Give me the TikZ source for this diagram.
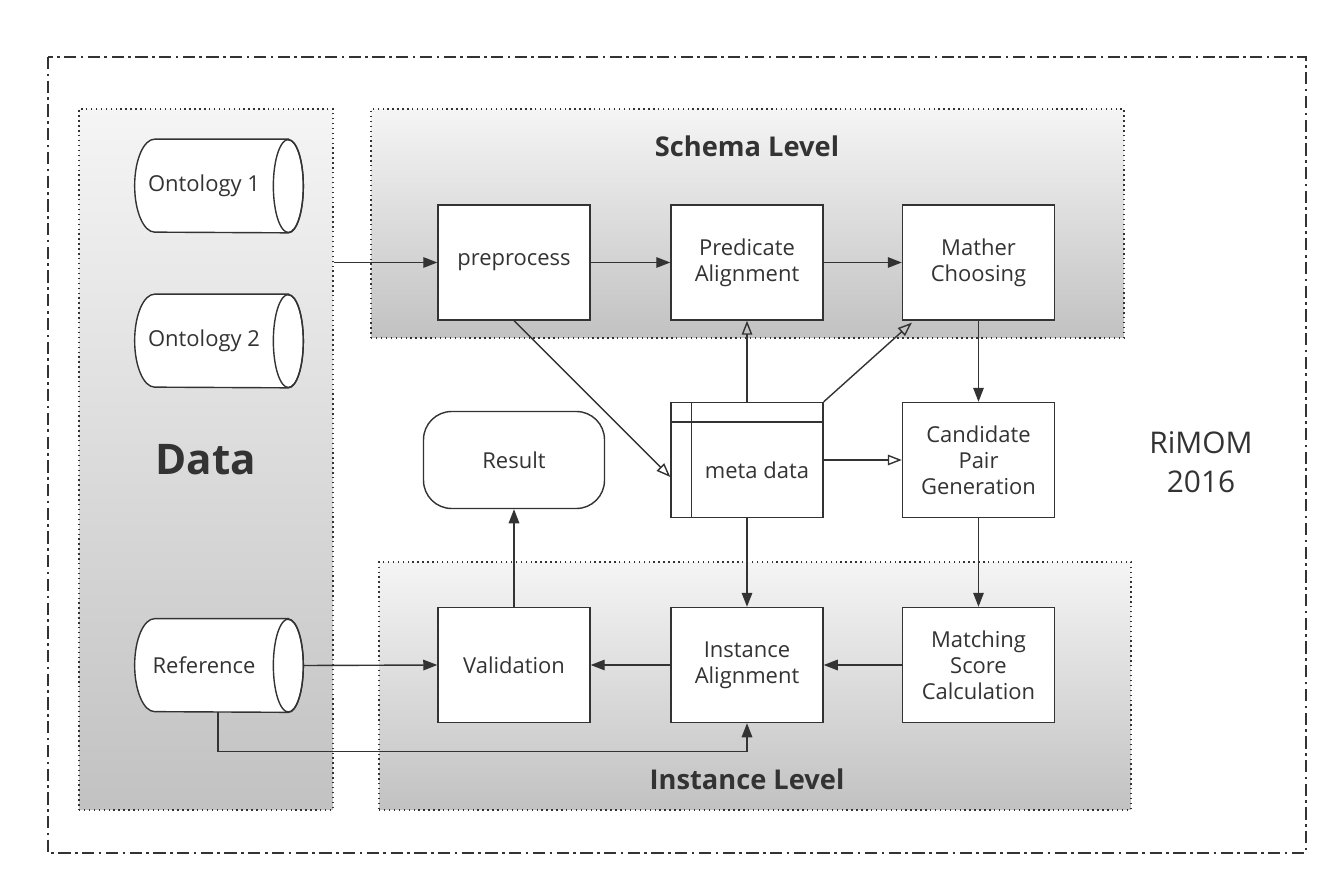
\documentclass[tikz,border=0pt]{standalone}
\usepackage{fontspec}
\setmainfont{Open Sans}
\usetikzlibrary{positioning}
\usetikzlibrary{arrows.meta}

\definecolor{ink}{HTML}{333333}

% outline of a lying cylinder round node #1
\newcommand{\dboutline}[1]{%
	\draw[ink, thick, fill=white] ([xshift=0.3cm]#1.north east) -- ([xshift=0.4cm]#1.north west)
		arc[start angle=90, end angle=270, x radius=0.4cm, y radius=0.93cm]
		-- ([xshift=0.3cm]#1.south east)
		arc[start angle=-90, end angle=90, x radius=0.3cm, y radius=0.93cm] -- cycle;
	\draw[ink, thick] ([xshift=0.3cm]#1.east) ellipse[x radius=0.3cm, y radius=0.93cm];
}

\begin{document}
\begin{tikzpicture}[x=0.02cm, y=-0.02cm, font=\fontsize{12.5}{14.7}\selectfont, text=ink,
			box/.style={draw=ink, thick, fill=white, minimum width=3.04cm, minimum height=2.3cm, align=center},
			db/.style={minimum width=2.76cm, minimum height=1.86cm, inner sep=0pt},
			panel/.style={draw=ink, dotted, thick, top color=white!96!black, bottom color=white!76!black},
			arr/.style={draw=ink, thick, -{Triangle[length=8pt, width=6pt]}},
			oarr/.style={draw=ink, thick, -{Triangle[open, length=8pt, width=6pt]}}]
			\useasboundingbox (0,0) rectangle (1339,895);
			\draw[ink, thick, dash pattern=on 7pt off 2.5pt on 1.5pt off 2.5pt] (48,57) rectangle (1306,853);
			% panels
			\node[panel, minimum width=5.08cm, minimum height=14.02cm] (datapanel) at (206,459.5) {};
			\node[panel, minimum width=15.06cm, minimum height=4.58cm] (schema) at (747.5,223.5) {};
			\node[panel, minimum width=15.04cm, minimum height=4.96cm] (instance) at (755,686) {};
			\node[font=\fontsize{15.5}{18}\bfseries] (schematitle) at (747,146) {Schema Level};
			\node[font=\fontsize{15.5}{18}\bfseries] (instancetitle) at (747,779) {Instance Level};
			\node[font=\fontsize{24}{28}\bfseries] (datatitle) at (206,460) {Data};
			% data sources
			\node[db] (onto1) at (204,186) {};
			\node[db] (onto2) at (204,341) {};
			\node[db] (ref) at (204,665.5) {};
			\dboutline{onto1}
			\dboutline{onto2}
			\dboutline{ref}
			\node at (onto1) {Ontology 1};
			\node at (onto2) {Ontology 2};
			\node at (ref) {Reference};
			% steps
			\node[box] (pre) at (514,262.5) {preprocess};
			\node[box] (pred) at (747,262.5) {Predicate\\Alignment};
			\node[box] (mather) at (978.5,262.5) {Mather\\Choosing};
			\node[box] (meta) at (747,460) {};
			\draw[ink, thick] ([xshift=0.42cm]meta.north west) -- ([xshift=0.42cm]meta.south west);
			\draw[ink, thick] ([yshift=-0.4cm]meta.north west) -- ([yshift=-0.4cm]meta.north east);
			\node (metatext) at (757,470) {meta data};
			\node[box] (cand) at (978.5,460) {Candidate\\Pair\\Generation};
			\node[box] (val) at (514,665) {Validation};
			\node[box] (inst) at (747,665) {Instance\\Alignment};
			\node[box] (match) at (978.5,665) {Matching\\Score\\Calculation};
			\node[draw=ink, thick, fill=white, rounded corners=16pt, minimum width=3.62cm, minimum height=1.94cm] (result) at (514,460) {Result};
			\node[font=\fontsize{17}{22}\selectfont, align=center] (rimom) at (1201,462) {RiMOM\\2016};
			% flow
			\path[arr] (datapanel.east |- pre) -- (pre);
			\path[arr] (pre) -- (pred);
			\path[arr] (pred) -- (mather);
			\path[oarr] (pre.south) -- ([yshift=-0.34cm]meta.west);
			\path[oarr] (meta.north) -- (pred.south);
			\path[oarr] (meta.north east) -- ([xshift=0.2cm, yshift=-0.04cm]mather.south west);
			\path[oarr] (meta.east) -- (cand.west);
			\path[arr] (mather) -- (cand);
			\path[arr] (cand) -- (match);
			\path[arr] (match) -- (inst);
			\path[arr] (inst) -- (val);
			\path[arr] (meta) -- (inst);
			\path[arr] (val) -- (result);
			\path[arr] ([xshift=0.6cm]ref.east) -- (val.west);
			\path[arr] ([xshift=0.28cm]ref.south) -- ++(0,39) -| (inst.south);
	\end{tikzpicture}
\end{document}
